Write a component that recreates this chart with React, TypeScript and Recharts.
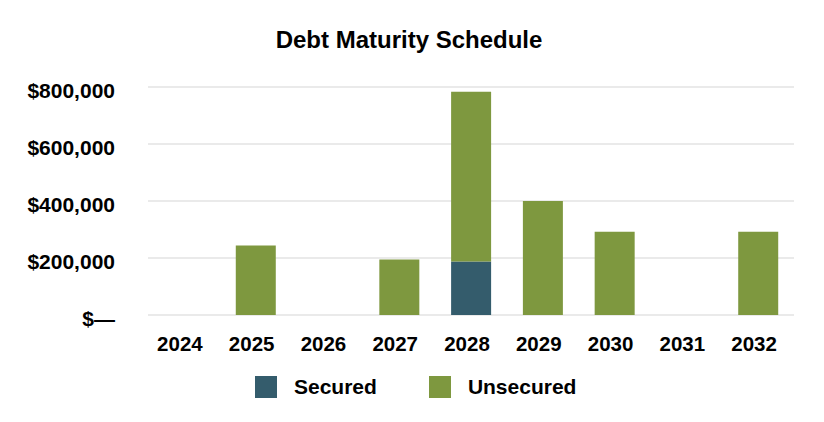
import { BarChart, Bar, XAxis, YAxis, CartesianGrid, Legend } from 'recharts'

const years = ['2024', '2025', '2026', '2027', '2028', '2029', '2030', '2031', '2032']
const secured = [0, 0, 0, 0, 188000, 0, 0, 0, 0]
const unsecured = [0, 244000, 0, 195000, 595000, 400000, 292000, 0, 292000]
const yTicks = [0, 200000, 400000, 600000, 800000]

const SECURED = '#345C6C'
const UNSECURED = '#7E983F'
const FONT = '"Liberation Sans", Arial, sans-serif'

const data = years.map((year, i) => ({ year, secured: secured[i], unsecured: unsecured[i] }))

function fmt(v: number) {
  return v === 0 ? '$\u2014' : '$' + v.toLocaleString('en-US')
}

function YTick(p: any) {
  return (
    <text x={p.x} y={p.y} dy={11} textAnchor="end" fontFamily={FONT} fontSize={21} fontWeight="bold" fill="#000">
      {fmt(p.payload.value)}
    </text>
  )
}

// labels sit a little left of the bar centres in the original
function XTick(p: any) {
  return (
    <text x={p.x} y={p.y} dx={-4} dy={36} textAnchor="middle" fontFamily={FONT} fontSize={20.5} fontWeight="bold" fill="#000">
      {p.payload.value}
    </text>
  )
}

function LegendBox() {
  const item = (color: string, label: string, gapAfter: number) => (
    <div style={{ display: 'flex', alignItems: 'center', marginRight: gapAfter }}>
      <div style={{ width: 22, height: 22, background: color, marginRight: 17 }} />
      <span style={{ fontFamily: FONT, fontSize: 21, fontWeight: 'bold', color: '#000' }}>{label}</span>
    </div>
  )
  return (
    <div style={{ display: 'flex', alignItems: 'center', height: 36, paddingLeft: 255 }}>
      {item(SECURED, 'Secured', 52)}
      {item(UNSECURED, 'Unsecured', 0)}
    </div>
  )
}

export default function App() {
  return (
    <div style={{ position: 'absolute', left: 0, top: 0, width: 824, height: 422, background: '#fff' }}>
      <div
        style={{
          position: 'absolute', left: 0, top: 28, width: 818, textAlign: 'center',
          fontFamily: FONT, fontSize: 24, fontWeight: 'bold', lineHeight: '23px', color: '#000',
        }}
      >
        Debt Maturity Schedule
      </div>
      <BarChart width={824} height={422} data={data} barSize={40} margin={{ top: 87, right: 30, left: 0, bottom: 17 }}>
        <CartesianGrid vertical={false} stroke="#e3e3e3" strokeWidth={1.5} />
        <XAxis dataKey="year" axisLine={false} tickLine={false} tickSize={0} tickMargin={0} height={54} tick={XTick} interval={0} />
        <YAxis
          domain={[0, 800000]}
          ticks={yTicks}
          axisLine={false}
          tickLine={false}
          tickSize={0}
          tickMargin={33}
          width={148}
          tick={YTick}
        />
        <Legend verticalAlign="bottom" content={LegendBox} wrapperStyle={{ left: 0, top: 369, width: 824 }} />
        <Bar dataKey="secured" name="Secured" stackId="a" fill={SECURED} isAnimationActive={false} />
        <Bar dataKey="unsecured" name="Unsecured" stackId="a" fill={UNSECURED} isAnimationActive={false} />
      </BarChart>
    </div>
  )
}
